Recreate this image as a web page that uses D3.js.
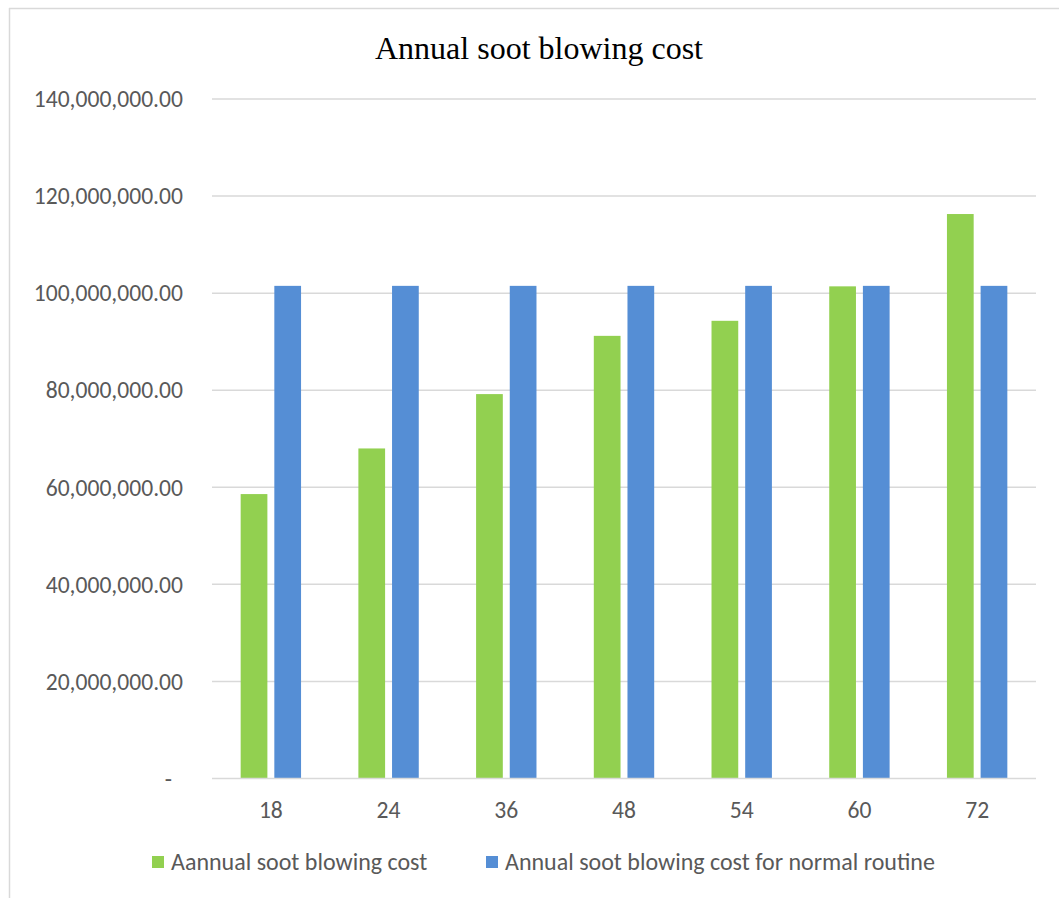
<!DOCTYPE html>
<html>
<head>
<meta charset="utf-8">
<script src="https://cdn.jsdelivr.net/npm/d3@7"></script>
<style>
  html, body { margin: 0; padding: 0; background: #fff; }
  svg { display: block; }
</style>
</head>
<body>
<svg id="chart" width="1059" height="898"></svg>
<script>
// Soot blowing interval (hours) and annual cost per scenario
const categories = ["18", "24", "36", "48", "54", "60", "72"];
const annualCost = [58600000, 68000000, 79200000, 91200000, 94300000, 101400000, 116300000];
const normalRoutineCost = [101500000, 101500000, 101500000, 101500000, 101500000, 101500000, 101500000];
const seriesNames = ["Aannual soot blowing cost", "Annual soot blowing cost for normal routine"];
const yTicks = [0, 20000000, 40000000, 60000000, 80000000, 100000000, 120000000, 140000000];

const colors = ["#92D050", "#558ED5"];
const W = 1059, H = 898;
const margin = { left: 212, right: 1036, top: 99, bottom: 778.5 };

const svg = d3.select("#chart");
const labelFont = "Carlito, Lato, Calibri, sans-serif";
const axisSize = 23.6;
const legendSize = 24;

// Chart frame (top and left edges visible)
svg.append("line").attr("x1", 9).attr("x2", W).attr("y1", 8.5).attr("y2", 8.5)
  .attr("stroke", "#d9d9d9").attr("stroke-width", 1.5);
svg.append("line").attr("x1", 9.5).attr("x2", 9.5).attr("y1", 8).attr("y2", H)
  .attr("stroke", "#d9d9d9").attr("stroke-width", 1.5);

// Title
svg.append("text")
  .attr("x", 539).attr("y", 59)
  .attr("text-anchor", "middle")
  .attr("font-family", "'Liberation Serif', 'Times New Roman', serif")
  .attr("font-size", 32)
  .attr("fill", "#000")
  .text("Annual soot blowing cost");

const x = d3.scaleBand().domain(categories).range([margin.left, margin.right]).paddingInner(0).paddingOuter(0);
const y = d3.scaleLinear().domain([0, 140000000]).range([margin.bottom, margin.top]);

// Horizontal gridlines
svg.append("g").selectAll("line")
  .data(yTicks.filter(d => d > 0))
  .join("line")
  .attr("x1", margin.left).attr("x2", margin.right)
  .attr("y1", d => y(d)).attr("y2", d => y(d))
  .attr("stroke", "#d9d9d9").attr("stroke-width", 1.5);

// Y axis labels
const fmt = d3.format(",.2f");
svg.append("g").selectAll("text")
  .data(yTicks)
  .join("text")
  .attr("x", d => d === 0 ? 172 : 183)
  .attr("y", d => y(d))
  .attr("dy", "0.35em")
  .attr("text-anchor", "end")
  .attr("font-family", labelFont)
  .attr("font-size", axisSize)
  .attr("fill", "#595959")
  .text(d => d === 0 ? "-" : fmt(d));

// Bars
const band = x.bandwidth();
const barW = band * 0.227;
const step = band * 0.286;
const series = [annualCost, normalRoutineCost];
series.forEach((vals, si) => {
  svg.append("g").selectAll("rect")
    .data(vals.map((v, i) => ({ v, c: categories[i] })))
    .join("rect")
    .attr("x", d => x(d.c) + band / 2 + (si === 0 ? -step / 2 : step / 2) - barW / 2)
    .attr("y", d => y(d.v))
    .attr("width", barW)
    .attr("height", d => y(0) - y(d.v))
    .attr("fill", colors[si]);
});

// X axis line
svg.append("line")
  .attr("x1", margin.left).attr("x2", margin.right)
  .attr("y1", y(0)).attr("y2", y(0))
  .attr("stroke", "#d9d9d9").attr("stroke-width", 1.5);

// X axis labels
svg.append("g").selectAll("text")
  .data(categories)
  .join("text")
  .attr("x", d => x(d) + band / 2)
  .attr("y", 810)
  .attr("dy", "0.35em")
  .attr("text-anchor", "middle")
  .attr("font-family", labelFont)
  .attr("font-size", axisSize)
  .attr("fill", "#595959")
  .text(d => d);

// Legend
const legendX = [152, 486];
const legend = svg.append("g").selectAll("g")
  .data(seriesNames)
  .join("g")
  .attr("transform", (d, i) => `translate(${legendX[i]},862)`);
legend.append("rect")
  .attr("x", 0).attr("y", -6).attr("width", 12).attr("height", 12)
  .attr("fill", (d, i) => colors[i]);
legend.append("text")
  .attr("x", 19).attr("y", 0).attr("dy", "0.35em")
  .attr("font-family", labelFont)
  .attr("font-size", legendSize)
  .attr("fill", "#595959")
  .text(d => d);
</script>
</body>
</html>
